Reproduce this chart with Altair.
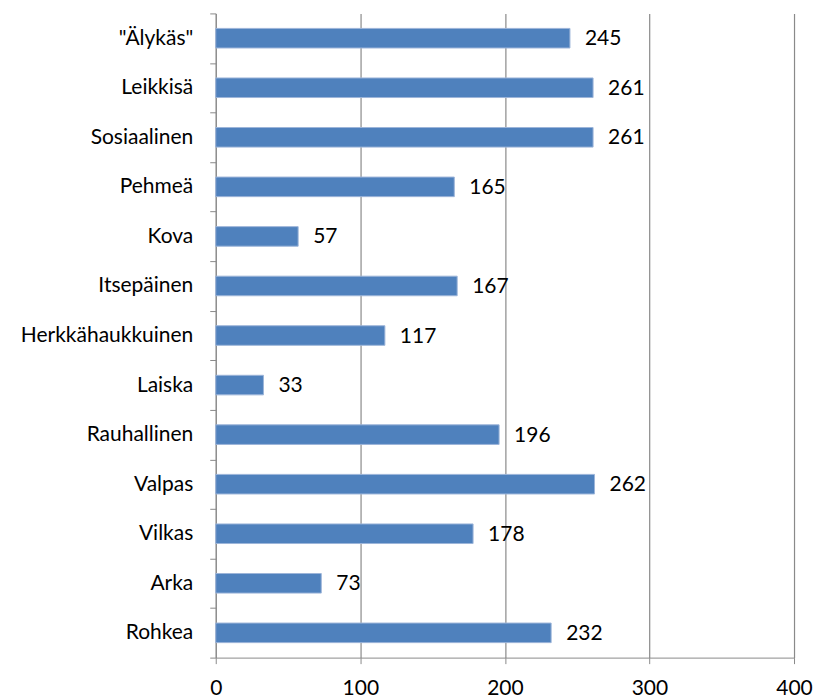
import altair as alt
import pandas as pd

categories = ['"Älykäs"', "Leikkisä", "Sosiaalinen", "Pehmeä", "Kova", "Itsepäinen",
              "Herkkähaukkuinen", "Laiska", "Rauhallinen", "Valpas", "Vilkas", "Arka", "Rohkea"]
values = [245, 261, 261, 165, 57, 167, 117, 33, 196, 262, 178, 73, 232]
x_ticks = [0, 100, 200, 300, 400]

df = pd.DataFrame({"cat": categories, "val": values})

FONT = "Lato"
FS = 21
GRAY = "#8A8A8A"

y_enc = alt.Y("cat:N", sort=categories, title=None,
              scale=alt.Scale(paddingInner=0, paddingOuter=0),
              axis=alt.Axis(tickBand="extent", domainColor=GRAY, tickColor=GRAY,
                            tickSize=6, labelPadding=17, labelFont=FONT, labelFontSize=FS,
                            labelColor="#000000", grid=False))
x_enc = alt.X("val:Q", title=None,
              scale=alt.Scale(domain=[0, 400], nice=False),
              axis=alt.Axis(values=x_ticks, grid=True, gridColor=GRAY, gridWidth=1.2,
                            domainColor=GRAY, tickColor=GRAY, tickSize=6, labelPadding=14,
                            labelFont=FONT, labelFontSize=FS, labelColor="#000000",
                            labelFlush=False))

bars = alt.Chart(df).mark_bar(height=alt.RelativeBandSize(0.395), color="#4F81BD",
                              stroke="#9DB5D9", strokeWidth=1).encode(x=x_enc, y=y_enc)
labels = alt.Chart(df).mark_text(align="left", baseline="middle", dx=15, dy=1,
                                 font=FONT, fontSize=FS, color="#000000").encode(
    x="val:Q", y=alt.Y("cat:N", sort=categories), text="val:Q")

chart = (bars + labels).properties(
    width=579, height=645,
    padding={"left": 12, "top": -6, "right": 0, "bottom": 0},
).configure_view(stroke=None).configure_axisX(gridColor=GRAY)

chart.save("out.html", embed_options={"renderer": "svg", "actions": False})
